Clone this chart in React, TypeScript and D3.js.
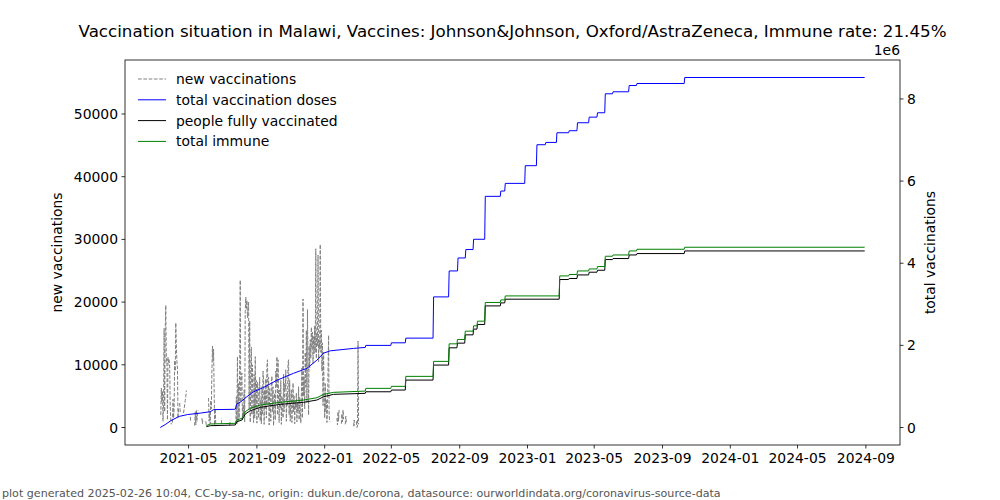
import React from "react";
import * as d3 from "d3";

const W = 1000;
const H = 500;
const PLOT = { left: 125, right: 900, top: 60, bottom: 445 };

const TITLE =
  "Vaccination situation in Malawi, Vaccines: Johnson&Johnson, Oxford/AstraZeneca, Immune rate: 21.45%";
const FOOTER =
  "plot generated 2025-02-26 10:04, CC-by-sa-nc, origin: dukun.de/corona, datasource: ourworldindata.org/coronavirus-source-data";

const X_TICKS = [
  "2021-05", "2021-09", "2022-01", "2022-05", "2022-09", "2023-01",
  "2023-05", "2023-09", "2024-01", "2024-05", "2024-09",
];
const LEFT_TICKS = [0, 10000, 20000, 30000, 40000, 50000];
const RIGHT_TICKS = [0, 2e6, 4e6, 6e6, 8e6];
const LEFT_LIMITS = [-2790, 58610];

// new vaccinations: [day offset from NEW_START, value] (null = gap)
const NEW_START = "2021-03-11";
const NEW_VAX: [number, number | null][] = [
  [1, 2000], [2, 6300], [3, 4000], [4, 5800], [5, 1000], [6, 4000], [7, 15800], [8, 2500], [9, 15500], [10, 19500],
  [11, 10500], [12, 11000], [13, 1200], [14, 11200], [15, 10400], [16, 10800], [17, 9800], [18, 3500], [19, 1200], [20, 500], [21, null],
  [22, 800], [23, 4500], [24, 1500], [25, 3000], [26, 10700], [27, 9000], [28, 16700], [29, 13000], [30, 10500], [31, 9500], [32, 1500], [33, 3000], [34, null],
  [35, 3900], [36, 2400], [37, null],
  [42, 2300], [43, 3000], [44, 3600], [45, 4300], [46, 4900], [47, 5900], [48, null],
  [54, 1700], [55, 900], [56, null],
  [62, 300], [63, 2500], [64, 400], [65, 2800], [66, 1000], [67, 2200], [68, 2700], [69, null],
  [75, 1500], [76, 600], [77, 1400], [78, null],
  [82, 1000], [83, 300], [84, null],
  [87, 4700], [88, 1000], [89, 2500], [90, 600], [91, 4300], [92, 3000], [93, 9000], [94, 13000], [95, 10500], [96, 12500], [97, 6000], [98, 400], [99, 3000], [100, 200], [101, null],
  [110, 600], [111, 1500], [112, null],
  [125, 300], [126, 1200], [127, null],
  [136, 500], [137, 4900], [138, 600], [139, 11300], [140, 1000], [141, 7000], [142, 1500], [143, 10500], [144, 23500], [145, 4000],
  [146, 8000], [147, 8700], [148, 1200], [149, 3500], [150, 2000], [151, 6000], [152, 900], [153, 18500], [154, 20800], [155, 19000],
  [156, 20300], [157, 17500], [158, 18800], [159, 20000], [160, 3000], [161, 17000], [162, 800], [163, 9000], [164, 12800], [165, 2000],
  [166, 10000], [167, 4500], [168, 800], [169, 8500], [170, 1500], [171, 11300], [172, 3000], [173, 7500], [174, 700], [175, 7200],
  [176, 6500], [177, 1500], [178, 5000], [179, 8000], [180, 1000], [181, 4500], [182, 600], [183, 6500], [184, 2000], [185, 9000],
  [186, 7500], [187, 500], [188, 6000], [189, 3000], [190, 7800], [191, 1500], [192, 9700], [193, 10800], [194, 3500], [195, 8000],
  [196, 400], [197, 6200], [198, 5000], [199, 1000], [200, 7000], [201, 8200], [202, 2500], [203, 6500], [204, 300], [205, 4000],
  [206, 5500], [207, 1200], [208, 9000], [209, 6500], [210, 11300], [211, 2000], [212, 10800], [213, 4500], [214, 800], [215, 6000],
  [216, 3000], [217, 7500], [218, 500], [219, 5000], [220, 4000], [221, 1500], [222, 8500], [223, 2500], [224, 7000], [225, 6000],
  [226, 9200], [227, 1000], [228, 5500], [229, 3500], [230, 10300], [231, 10800], [232, 2000], [233, 7500], [234, 1000], [235, 4500],
  [236, 6000], [237, 800], [238, 3500], [239, 7100], [240, 2500], [241, 5000], [242, 600], [243, 4200], [244, 3000], [245, 5500],
  [246, 900], [247, 4000], [248, 2500], [249, 6500], [250, 1200], [251, 4800], [252, 3000], [253, 700], [254, 5000], [255, 9500],
  [256, 1500], [257, 20500], [258, 5000], [259, 8000], [260, 3000], [261, 12000], [262, 6500], [263, 15500], [264, 4000], [265, 18800],
  [266, 10000], [267, 2000], [268, 13000], [269, 9500], [270, 14000], [271, 11000], [272, 16000], [273, 12500], [274, 15200], [275, 10200],
  [276, 14500], [277, 11800], [278, 16200], [279, 12000], [280, 28500], [281, 11000], [282, 15000], [283, 13000], [284, 27500], [285, 10500],
  [286, 14000], [287, 12500], [288, 29200], [289, 12000], [290, 15500], [291, 9000], [292, 13500], [293, 3500], [294, 12000], [295, 5000],
  [296, 1500], [297, 7000], [298, 2500], [299, 4500], [300, 800], [301, 3000], [302, 9000], [303, 14700], [304, 2000], [305, 900], [306, null],
  [318, 1500], [319, 400], [320, 2500], [321, 1000], [322, 3000], [323, null],
  [326, 600], [327, 2200], [328, 900], [329, 2800], [330, 1300], [331, null],
  [333, 500], [334, 1800], [335, 700], [336, null],
  [348, 200], [349, 1200], [350, 300], [351, null],
  [353, 1000], [354, 0], [355, 200], [356, 13800], [357, 500],
];

// cumulative series: smooth daily part, then reported steps
const TOTAL_DOSES_SMOOTH: [string, number][] = [
  ["2021-03-11", 0], ["2021-03-21", 80000], ["2021-03-30", 165000], ["2021-04-14", 270000],
  ["2021-04-29", 315000], ["2021-05-22", 350000], ["2021-06-09", 385000], ["2021-06-15", 435000],
  ["2021-07-24", 443000], ["2021-07-27", 575000], ["2021-08-02", 615000], ["2021-08-14", 750000],
  ["2021-08-26", 870000], ["2021-09-13", 975000], ["2021-10-07", 1150000], ["2021-11-06", 1320000],
  ["2021-11-30", 1440000], ["2021-12-18", 1640000], ["2021-12-30", 1810000], ["2022-01-11", 1867000],
  ["2022-02-22", 1926000], ["2022-03-15", 1950000],
];
const TOTAL_DOSES_STEPS: [string, number][] = [
  ["2022-03-16", 1999000], ["2022-05-01", 2062000], ["2022-05-27", 2176000], ["2022-07-16", 3180000],
  ["2022-08-13", 3812000], ["2022-08-29", 4128000], ["2022-09-12", 4333000], ["2022-09-26", 4583000],
  ["2022-10-17", 5628000], ["2022-11-14", 5757000], ["2022-11-22", 5944000], ["2022-12-28", 6375000],
  ["2023-01-18", 6885000], ["2023-02-03", 6941000], ["2023-02-23", 7177000], ["2023-03-17", 7226000],
  ["2023-04-01", 7420000], ["2023-04-22", 7557000], ["2023-05-07", 7663000], ["2023-05-21", 8125000],
  ["2023-06-04", 8174000], ["2023-07-03", 8327000], ["2023-07-17", 8376000], ["2023-10-11", 8522000],
  ["2024-08-30", 8522000],
];

const FULLY_SMOOTH: [string, number][] = [
  ["2021-06-02", 20000], ["2021-06-09", 44000], ["2021-07-24", 61000], ["2021-07-27", 141000],
  ["2021-08-05", 182000], ["2021-08-11", 328000], ["2021-08-20", 408000], ["2021-09-07", 491000],
  ["2021-10-13", 564000], ["2021-11-24", 613000], ["2021-12-18", 669000], ["2021-12-30", 749000],
  ["2022-01-17", 807000], ["2022-03-15", 832000],
];
const FULLY_STEPS: [string, number][] = [
  ["2022-03-16", 870000], ["2022-05-01", 912000], ["2022-05-27", 1155000], ["2022-07-16", 1520000],
  ["2022-08-13", 1940000], ["2022-08-28", 2054000], ["2022-09-11", 2256000], ["2022-09-26", 2395000],
  ["2022-10-03", 2509000], ["2022-10-17", 2961000], ["2022-11-14", 3034000], ["2022-11-22", 3124000],
  ["2023-02-28", 3603000], ["2023-03-17", 3628000], ["2023-04-01", 3715000], ["2023-04-22", 3781000],
  ["2023-05-07", 3829000], ["2023-05-21", 4089000], ["2023-06-04", 4114000], ["2023-07-03", 4201000],
  ["2023-07-17", 4235000], ["2023-10-11", 4299000], ["2024-08-30", 4299000],
];

const IMMUNE_SMOOTH: [string, number][] = [
  ["2021-06-02", 45000], ["2021-06-09", 85000], ["2021-07-24", 102000], ["2021-07-27", 182000],
  ["2021-08-05", 224000], ["2021-08-11", 384000], ["2021-08-20", 467000], ["2021-09-07", 547000],
  ["2021-10-13", 613000], ["2021-11-24", 669000], ["2021-12-18", 725000], ["2021-12-30", 807000],
  ["2022-01-17", 856000], ["2022-03-15", 887000],
];
const IMMUNE_STEPS: [string, number][] = [
  ["2022-03-16", 953000], ["2022-05-01", 1002000], ["2022-05-27", 1245000], ["2022-07-16", 1610000],
  ["2022-08-13", 2037000], ["2022-08-28", 2144000], ["2022-09-11", 2346000], ["2022-09-26", 2475000],
  ["2022-10-03", 2589000], ["2022-10-17", 3044000], ["2022-11-14", 3107000], ["2022-11-22", 3204000],
  ["2023-02-28", 3691000], ["2023-03-17", 3725000], ["2023-04-01", 3812000], ["2023-04-22", 3861000],
  ["2023-05-07", 3919000], ["2023-05-21", 4170000], ["2023-06-04", 4201000], ["2023-07-03", 4299000],
  ["2023-07-17", 4340000], ["2023-10-11", 4389000], ["2024-08-30", 4389000],
];

const LEGEND = [
  { label: "new vaccinations", color: "#808080", dash: "3.7,1.6" },
  { label: "total vaccination doses", color: "#0000ff", dash: "" },
  { label: "people fully vaccinated", color: "#000000", dash: "" },
  { label: "total immune", color: "#008000", dash: "" },
];

const FONT = "DejaVu Sans, sans-serif";
const parse = d3.utcParse("%Y-%m-%d");

function withDailySteps(smooth: [string, number][], steps: [string, number][]): [Date, number][] {
  const out: [Date, number][] = smooth.map(([d, v]) => [parse(d) as Date, v]);
  let prev = out[out.length - 1][1];
  for (const [d, v] of steps) {
    const dt = parse(d) as Date;
    out.push([d3.utcDay.offset(dt, -1), prev]);
    out.push([dt, v]);
    prev = v;
  }
  return out;
}

export default function App() {
  const newStart = parse(NEW_START) as Date;
  const total = withDailySteps(TOTAL_DOSES_SMOOTH, TOTAL_DOSES_STEPS);
  const fully = withDailySteps(FULLY_SMOOTH, FULLY_STEPS);
  const immune = withDailySteps(IMMUNE_SMOOTH, IMMUNE_STEPS);

  const allDates = [...total, ...fully, ...immune].map((d) => d[0]);
  const [d0, d1] = d3.extent(allDates) as [Date, Date];
  const span = d1.getTime() - d0.getTime();
  const x = d3
    .scaleUtc()
    .domain([new Date(d0.getTime() - span * 0.05), new Date(d1.getTime() + span * 0.05)])
    .range([PLOT.left, PLOT.right]);

  const maxTotal = d3.max(total, (d) => d[1]) as number;
  const yR = d3
    .scaleLinear()
    .domain([-0.05 * maxTotal, 1.05 * maxTotal])
    .range([PLOT.bottom, PLOT.top]);
  const yL = d3.scaleLinear().domain(LEFT_LIMITS).range([PLOT.bottom, PLOT.top]);

  const newLine = d3
    .line<[number, number | null]>()
    .defined((d) => d[1] !== null)
    .x((d) => x(d3.utcDay.offset(newStart, d[0])))
    .y((d) => yL(d[1] as number));
  const cumLine = d3
    .line<[Date, number]>()
    .x((d) => x(d[0]))
    .y((d) => yR(d[1]));

  const parseMonth = d3.utcParse("%Y-%m");

  return (
    <svg
      width={W}
      height={H}
      style={{ position: "absolute", left: 0, top: 0, background: "#fff" }}
      fontFamily={FONT}
    >
      <rect x={0} y={0} width={W} height={H} fill="#fff" />
      <text x={(PLOT.left + PLOT.right) / 2} y={37} textAnchor="middle" fontSize={16.7} fill="#000">
        {TITLE}
      </text>

      <defs>
        <clipPath id="plotclip">
          <rect x={PLOT.left} y={PLOT.top} width={PLOT.right - PLOT.left} height={PLOT.bottom - PLOT.top} />
        </clipPath>
      </defs>

      <g clipPath="url(#plotclip)">
        <path d={newLine(NEW_VAX) || ""} fill="none" stroke="#808080" strokeWidth={1} strokeDasharray="3.7,1.6" />
        <path d={cumLine(total) || ""} fill="none" stroke="#0000ff" strokeWidth={1} />
        <path d={cumLine(fully) || ""} fill="none" stroke="#000000" strokeWidth={1} />
        <path d={cumLine(immune) || ""} fill="none" stroke="#008000" strokeWidth={1} />
      </g>

      <rect
        x={PLOT.left}
        y={PLOT.top}
        width={PLOT.right - PLOT.left}
        height={PLOT.bottom - PLOT.top}
        fill="none"
        stroke="#000"
        strokeWidth={0.8}
      />

      {/* x axis */}
      {X_TICKS.map((t) => {
        const px = x(parseMonth(t) as Date);
        return (
          <g key={t}>
            <line x1={px} x2={px} y1={PLOT.bottom} y2={PLOT.bottom + 3.5} stroke="#000" strokeWidth={0.8} />
            <text x={px} y={PLOT.bottom + 17.5} textAnchor="middle" fontSize={13.9} fill="#000">
              {t}
            </text>
          </g>
        );
      })}

      {/* left axis */}
      {LEFT_TICKS.map((t) => {
        const py = yL(t);
        return (
          <g key={t}>
            <line x1={PLOT.left - 3.5} x2={PLOT.left} y1={py} y2={py} stroke="#000" strokeWidth={0.8} />
            <text x={PLOT.left - 7} y={py} dy="0.36em" textAnchor="end" fontSize={13.9} fill="#000">
              {t}
            </text>
          </g>
        );
      })}
      <text
        transform={`translate(62,${(PLOT.top + PLOT.bottom) / 2}) rotate(-90)`}
        textAnchor="middle"
        fontSize={13.9}
        fill="#000"
      >
        new vaccinations
      </text>

      {/* right axis */}
      {RIGHT_TICKS.map((t) => {
        const py = yR(t);
        return (
          <g key={t}>
            <line x1={PLOT.right} x2={PLOT.right + 3.5} y1={py} y2={py} stroke="#000" strokeWidth={0.8} />
            <text x={PLOT.right + 7} y={py} dy="0.36em" textAnchor="start" fontSize={13.9} fill="#000">
              {t / 1e6}
            </text>
          </g>
        );
      })}
      <text x={PLOT.right} y={55} textAnchor="end" fontSize={13.9} fill="#000">
        1e6
      </text>
      <text
        transform={`translate(935,${(PLOT.top + PLOT.bottom) / 2}) rotate(-90)`}
        textAnchor="middle"
        fontSize={13.9}
        fill="#000"
      >
        total vaccinations
      </text>

      {/* legend */}
      {LEGEND.map((item, i) => {
        const ly = 79 + i * 20.8;
        return (
          <g key={item.label}>
            <line
              x1={138}
              x2={166}
              y1={ly}
              y2={ly}
              stroke={item.color}
              strokeWidth={1}
              strokeDasharray={item.dash || undefined}
            />
            <text x={176} y={ly} dy="0.36em" fontSize={13.9} fill="#000">
              {item.label}
            </text>
          </g>
        );
      })}

      <text x={2} y={497} fontSize={11.1} fill="#555">
        {FOOTER}
      </text>
    </svg>
  );
}
